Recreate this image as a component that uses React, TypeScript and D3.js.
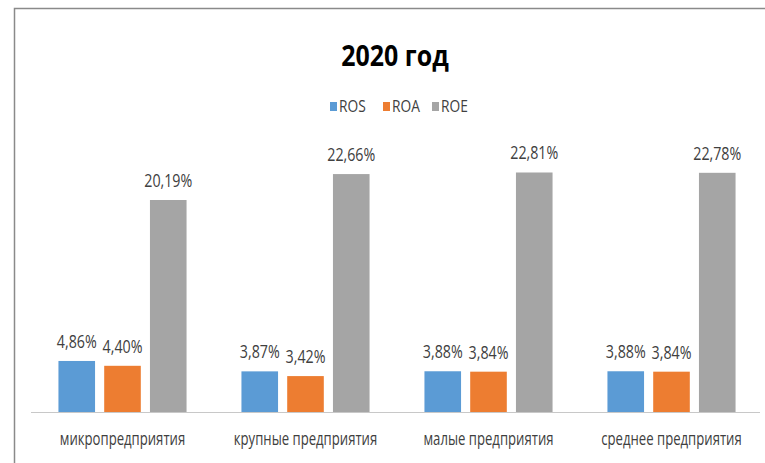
import React, { useEffect, useRef } from "react";
import * as d3 from "d3";

const categories = [
  "микропредприятия",
  "крупные предприятия",
  "малые предприятия",
  "среднее предприятия",
];
const seriesNames = ["ROS", "ROA", "ROE"];
const rosValues = [4.86, 3.87, 3.88, 3.88];
const roaValues = [4.4, 3.42, 3.84, 3.84];
const roeValues = [20.19, 22.66, 22.81, 22.78];
const colors = ["#5B9BD5", "#ED7D31", "#A5A5A5"];

const FONT = "'Open Sans', sans-serif";

const App: React.FC = () => {
  const svgRef = useRef<SVGSVGElement>(null);

  useEffect(() => {
    const svg = d3.select(svgRef.current!);
    svg.selectAll("*").remove();

    const series = [rosValues, roaValues, roeValues];

    const x0 = d3.scaleBand<string>().domain(categories).range([31, 763]);
    const x1 = d3
      .scaleBand<string>()
      .domain(seriesNames)
      .range([0, x0.bandwidth()])
      .paddingInner(0.2)
      .paddingOuter(0.6);
    const y = d3.scaleLinear().domain([0, 25]).range([412, 149.5]);

    // frame
    svg
      .append("path")
      .attr("d", "M14.5,463 L14.5,8.5 L765,8.5")
      .attr("fill", "none")
      .attr("stroke", "#8a8a8a")
      .attr("stroke-width", 1.5);

    // title (squeezed horizontally like the narrow original font)
    svg
      .append("text")
      .attr("transform", "translate(395,66) scale(0.86,1)")
      .attr("text-anchor", "middle")
      .style("font-family", FONT)
      .style("font-size", "29px")
      .style("font-weight", "bold")
      .attr("fill", "#000")
      .text("2020 год");

    // legend
    const legendX = [330, 383, 432];
    const legend = svg
      .selectAll(".legend")
      .data(seriesNames)
      .join("g")
      .attr("class", "legend")
      .attr("transform", (_d, i) => `translate(${legendX[i]},0)`);
    legend
      .append("rect")
      .attr("x", 0)
      .attr("y", 102)
      .attr("width", 7)
      .attr("height", 9)
      .attr("fill", (_d, i) => colors[i]);
    legend
      .append("text")
      .attr("transform", "translate(9,112) scale(0.86,1)")
      .style("font-family", FONT)
      .style("font-size", "16px")
      .attr("fill", "#404040")
      .text((d) => d);

    // axis line
    svg
      .append("line")
      .attr("x1", 31)
      .attr("x2", 760)
      .attr("y1", 412.5)
      .attr("y2", 412.5)
      .attr("stroke", "#c8c8c8")
      .attr("stroke-width", 1.2);

    const groups = svg
      .selectAll(".group")
      .data(categories)
      .join("g")
      .attr("class", "group")
      .attr("transform", (d) => `translate(${x0(d)},0)`);

    const cells = groups
      .selectAll(".bar")
      .data((_c, ci) =>
        seriesNames.map((s, si) => ({ s, si, v: series[si][ci] }))
      )
      .join("g")
      .attr("class", "bar");

    cells
      .append("rect")
      .attr("x", (d) => x1(d.s)!)
      .attr("y", (d) => y(d.v))
      .attr("width", x1.bandwidth())
      .attr("height", (d) => y(0) - y(d.v))
      .attr("fill", (d) => colors[d.si]);

    cells
      .append("text")
      .attr(
        "transform",
        (d) =>
          `translate(${x1(d.s)! + x1.bandwidth() / 2},${y(d.v) - 13}) scale(0.75,1)`
      )
      .attr("text-anchor", "middle")
      .style("font-family", FONT)
      .style("font-size", "19px")
      .attr("fill", "#404040")
      .text((d) => d3.format(".2f")(d.v).replace(".", ",") + "%");

    groups
      .append("text")
      .attr("transform", `translate(${x0.bandwidth() / 2},445) scale(0.73,1)`)
      .attr("text-anchor", "middle")
      .style("font-family", FONT)
      .style("font-size", "18px")
      .attr("fill", "#404040")
      .text((d) => d);
  }, []);

  return (
    <svg
      ref={svgRef}
      width={765}
      height={463}
      style={{ position: "absolute", left: 0, top: 0, background: "#fff" }}
    />
  );
};

export default App;
